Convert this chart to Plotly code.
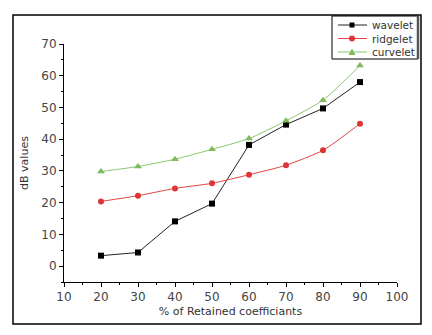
import plotly.graph_objects as go

x_pct = [20, 30, 40, 50, 60, 70, 80, 90]
wavelet = [3.3, 4.3, 14.1, 19.7, 38.2, 44.6, 49.7, 58.0]
ridgelet = [20.4, 22.2, 24.5, 26.1, 28.8, 31.8, 36.5, 44.9]
curvelet = [29.8, 31.4, 33.7, 36.8, 40.2, 45.8, 52.3, 63.2]
series_names = ["wavelet", "ridgelet", "curvelet"]

FONT = "DejaVu Sans"
W, H = 432, 335
L, R, T, B = 64, 35, 44, 53
pw, ph = W - L - R, H - T - B

def px(xp):
    return (xp - L) / pw

def py(yp):
    return (H - B - yp) / ph

BLACK_L, BLACK_M = "#222222", "#000000"
RED_L, RED_M = "#e04545", "#e03535"
GRN_L, GRN_M = "#8cc870", "#7dbb5e"

fig = go.Figure()
fig.add_trace(go.Scatter(x=x_pct, y=wavelet, name=series_names[0], mode="lines+markers",
                         line=dict(color=BLACK_L, width=1),
                         marker=dict(symbol="square", size=6, color=BLACK_M)))
fig.add_trace(go.Scatter(x=x_pct, y=ridgelet, name=series_names[1], mode="lines+markers",
                         line=dict(color=RED_L, width=1, shape="spline", smoothing=0.6),
                         marker=dict(symbol="circle", size=6, color=RED_M)))
fig.add_trace(go.Scatter(x=x_pct, y=curvelet, name=series_names[2], mode="lines+markers",
                         line=dict(color=GRN_L, width=1, shape="spline", smoothing=0.6),
                         marker=dict(symbol="triangle-up", size=7, color=GRN_M)))

shapes = [
    dict(type="rect", xref="paper", yref="paper",
         x0=px(13), x1=px(421), y0=py(324), y1=py(15),
         line=dict(color="#000000", width=1.5)),
    dict(type="rect", xref="paper", yref="paper",
         x0=px(332), x1=px(418), y0=py(59), y1=py(16),
         line=dict(color="#000000", width=1)),
    dict(type="line", xref="paper", yref="paper",
         x0=px(418), x1=px(418), y0=py(59), y1=py(16),
         line=dict(color="#555555", width=2.5)),
]
annotations = []

# manual legend
leg_y = [25, 38.5, 52]
leg_cols = [(BLACK_L, BLACK_M), (RED_L, RED_M), (GRN_L, GRN_M)]
mx = 352
for i, (name, yy, (lc, mc)) in enumerate(zip(series_names, leg_y, leg_cols)):
    shapes.append(dict(type="line", xref="paper", yref="paper",
                       x0=px(338), x1=px(367), y0=py(yy), y1=py(yy),
                       line=dict(color=lc, width=1)))
    if i == 0:
        shapes.append(dict(type="rect", xref="paper", yref="paper",
                           x0=px(mx - 2.5), x1=px(mx + 2.5), y0=py(yy + 2.5), y1=py(yy - 2.5),
                           fillcolor=mc, line=dict(width=0)))
    elif i == 1:
        shapes.append(dict(type="circle", xref="paper", yref="paper",
                           x0=px(mx - 3), x1=px(mx + 3), y0=py(yy + 3), y1=py(yy - 3),
                           fillcolor=mc, line=dict(width=0)))
    else:
        path = "M {a},{b} L {c},{d} L {e},{f} Z".format(
            a=px(mx - 3.5), b=py(yy + 3), c=px(mx + 3.5), d=py(yy + 3),
            e=px(mx), f=py(yy - 3.5))
        shapes.append(dict(type="path", xref="paper", yref="paper", path=path,
                           fillcolor=mc, line=dict(width=0)))
    annotations.append(dict(text=name, xref="paper", yref="paper",
                            x=px(370), y=py(yy), xanchor="left", yanchor="middle",
                            showarrow=False,
                            font=dict(family=FONT, size=10.5, color="#333333")))

fig.update_layout(
    width=W, height=H,
    margin=dict(l=L, r=R, t=T, b=B),
    paper_bgcolor="white", plot_bgcolor="white",
    font=dict(family=FONT, size=11, color="#444444"),
    showlegend=False,
    xaxis=dict(range=[10, 100], tickvals=[10, 20, 30, 40, 50, 60, 70, 80, 90, 100],
               showgrid=False, zeroline=False, showline=True, linecolor="#000000", linewidth=1,
               ticks="outside", ticklen=4, tickcolor="#000000",
               minor=dict(dtick=5, ticks="outside", ticklen=2, tickcolor="#000000"),
               tickfont=dict(family=FONT, size=12, color="#444444"),
               title=dict(text="% of Retained coefficiants", standoff=3,
                          font=dict(family=FONT, size=11, color="#333333"))),
    yaxis=dict(range=[-5, 70], tickvals=[0, 10, 20, 30, 40, 50, 60, 70],
               showgrid=False, zeroline=False, showline=True, linecolor="#000000", linewidth=1,
               ticks="outside", ticklen=4, tickcolor="#000000",
               minor=dict(tick0=5, dtick=10, ticks="outside", ticklen=2, tickcolor="#000000"),
               tickfont=dict(family=FONT, size=12, color="#444444"),
               title=dict(text="dB values", standoff=10,
                          font=dict(family=FONT, size=11, color="#333333"))),
    shapes=shapes,
    annotations=annotations,
)

fig.write_html("out.html")
